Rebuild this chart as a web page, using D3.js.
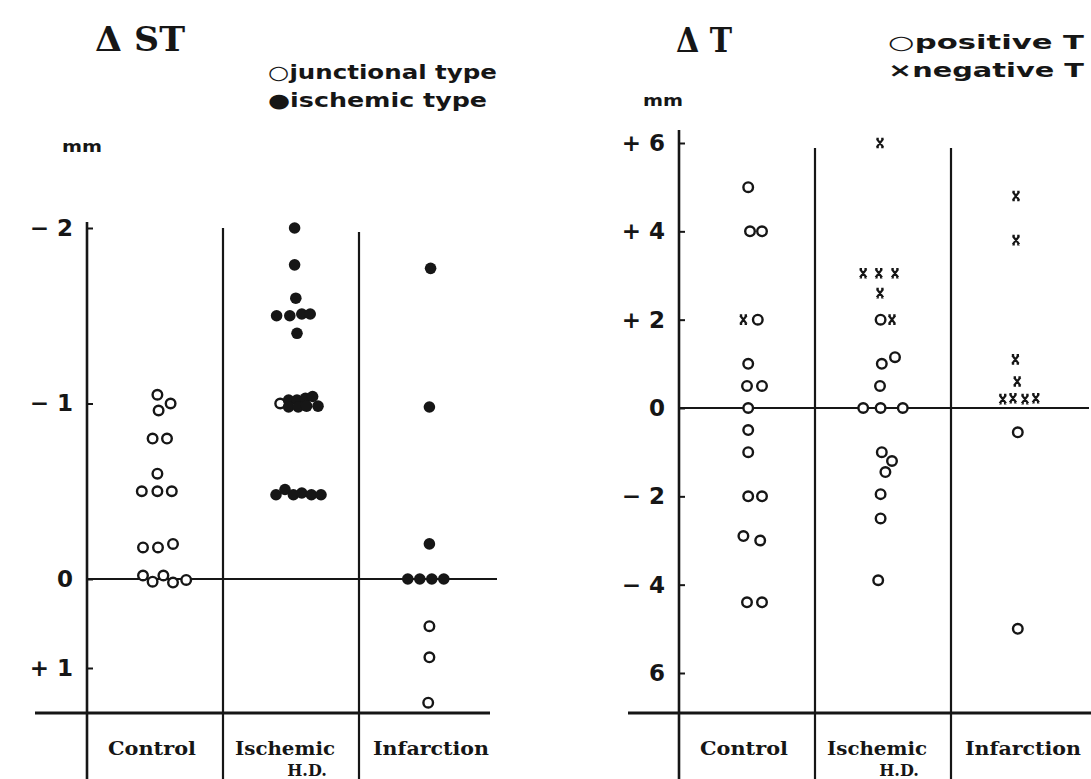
<!DOCTYPE html>
<html><head><meta charset="utf-8">
<script src="https://cdn.jsdelivr.net/npm/d3@7"></script>
<style>body{margin:0;background:#fff}svg{display:block}</style>
</head><body><svg id="c" width="1091" height="779"></svg>
<script>
// ---------- data ----------
const categories = ["Control", "Ischemic", "Infarction"];
const categoryLabels = [["Control"], ["Ischemic", "H.D."], ["Infarction"]];

const stTicks = [-2, -1, 0, 1];
const stTickLabels = ["− 2", "− 1", "0", "+ 1"];
const tTicks = [6, 4, 2, 0, -2, -4, -6];
const tTickLabels = ["+ 6", "+ 4", "+ 2", "0", "− 2", "− 4", "6"];

// [category, horizontal slot (marker widths from column centre), value in mm]
const stJunctional = [
  ["Control", 0.2, -1.05], ["Control", 1.3, -1.0], ["Control", 0.3, -0.96],
  ["Control", -0.2, -0.8], ["Control", 1.0, -0.8],
  ["Control", 0.2, -0.6],
  ["Control", -1.1, -0.5], ["Control", 0.2, -0.5], ["Control", 1.4, -0.5],
  ["Control", -1.0, -0.18], ["Control", 0.25, -0.18], ["Control", 1.5, -0.2],
  ["Control", -1.0, -0.02], ["Control", -0.2, 0.03], ["Control", 0.7, -0.02], ["Control", 1.5, 0.04], ["Control", 2.6, 0.01],
  ["Ischemic", -0.9, -1.0],
  ["Infarction", 0.2, 0.53], ["Infarction", 0.2, 0.88], ["Infarction", 0.1, 1.39]
];
const stIschemic = [
  ["Ischemic", 0.3, -2.0], ["Ischemic", 0.3, -1.79], ["Ischemic", 0.4, -1.6],
  ["Ischemic", -1.2, -1.5], ["Ischemic", -0.1, -1.5], ["Ischemic", 0.9, -1.51], ["Ischemic", 1.6, -1.51],
  ["Ischemic", 0.5, -1.4],
  ["Ischemic", -0.2, -1.02], ["Ischemic", 0.5, -1.02], ["Ischemic", 1.2, -1.03], ["Ischemic", 1.8, -1.04],
  ["Ischemic", -0.2, -0.98], ["Ischemic", 0.6, -0.98], ["Ischemic", 1.3, -0.985], ["Ischemic", 2.25, -0.985],
  ["Ischemic", -1.25, -0.48], ["Ischemic", -0.5, -0.51], ["Ischemic", 0.2, -0.48], ["Ischemic", 0.9, -0.49], ["Ischemic", 1.7, -0.48], ["Ischemic", 2.5, -0.48],
  ["Infarction", 0.3, -1.77], ["Infarction", 0.2, -0.98], ["Infarction", 0.2, -0.2],
  ["Infarction", -1.6, 0], ["Infarction", -0.6, 0], ["Infarction", 0.4, 0], ["Infarction", 1.4, 0]
];
const tPositive = [
  ["Control", 0.1, 5.0], ["Control", 0.25, 4.0], ["Control", 1.25, 4.0], ["Control", 0.9, 2.0],
  ["Control", 0.1, 1.0], ["Control", 0.0, 0.5], ["Control", 1.25, 0.5], ["Control", 0.1, 0.0],
  ["Control", 0.1, -0.5], ["Control", 0.1, -1.0], ["Control", 0.1, -2.0], ["Control", 1.25, -2.0],
  ["Control", -0.3, -2.9], ["Control", 1.1, -3.0], ["Control", 0.0, -4.4], ["Control", 1.25, -4.4],
  ["Ischemic", -0.2, 2.0], ["Ischemic", -0.1, 1.0], ["Ischemic", 1.0, 1.15], ["Ischemic", -0.25, 0.5],
  ["Ischemic", -1.65, 0.0], ["Ischemic", -0.2, 0.0], ["Ischemic", 1.65, 0.0],
  ["Ischemic", -0.1, -1.0], ["Ischemic", 0.75, -1.2], ["Ischemic", 0.2, -1.45], ["Ischemic", -0.2, -1.95],
  ["Ischemic", -0.2, -2.5], ["Ischemic", -0.4, -3.9],
  ["Infarction", -0.1, -0.55], ["Infarction", -0.1, -5.0]
];
const tNegative = [
  ["Control", -0.3, 2.0],
  ["Ischemic", -0.25, 6.0], ["Ischemic", -1.65, 3.05], ["Ischemic", -0.35, 3.05], ["Ischemic", 1.0, 3.05],
  ["Ischemic", -0.25, 2.6], ["Ischemic", 0.75, 2.0],
  ["Infarction", -0.25, 4.8], ["Infarction", -0.25, 3.8], ["Infarction", -0.3, 1.1], ["Infarction", -0.15, 0.6],
  ["Infarction", -1.35, 0.2], ["Infarction", -0.5, 0.22], ["Infarction", 0.5, 0.2], ["Infarction", 1.4, 0.22]
];

// ---------- drawing ----------
const ink = "#161616";
const svg = d3.select("#c");
svg.append("rect").attr("width", 1091).attr("height", 779).attr("fill", "#fff");

const slot = d3.scaleLinear().domain([0, 1]).range([0, 12]);

function drawPanel(o) {
  const g = svg.append("g");
  const x = d3.scaleBand().domain(categories).range([o.x0, o.x0 + 408]);
  const cx = d => x(d[0]) + x.bandwidth() / 2 + slot(d[1]);
  const y = o.y;

  // axis with inward ticks
  const ax = g.append("g").attr("transform", `translate(${o.x0},0)`)
    .call(d3.axisLeft(y).tickValues(o.ticks).tickFormat((d, i) => o.tickLabels[i])
      .tickSize(-6).tickPadding(14));
  ax.select(".domain").remove();
  ax.attr("font-size", null).attr("font-family", null);
  ax.selectAll(".tick line").attr("stroke", ink).attr("stroke-width", 2);
  ax.selectAll(".tick text").attr("fill", ink)
    .style("font-family", "'DejaVu Sans', sans-serif")
    .style("font-weight", "bold").style("font-size", "23px");

  const line = (x1, y1, x2, y2, w) => g.append("line")
    .attr("x1", x1).attr("y1", y1).attr("x2", x2).attr("y2", y2)
    .attr("stroke", ink).attr("stroke-width", w);

  line(o.x0, o.axisTop, o.x0, 779, 2.6);
  line(o.x0 + 136, o.divTop[0], o.x0 + 136, 779, 2.2);
  line(o.x0 + 272, o.divTop[1], o.x0 + 272, 779, 2.2);
  line(o.x0, y(0), o.x0 + 410, y(0), 2.2);
  line(o.bottom[0], o.bottomY, o.bottom[1], o.bottomY, 3.2);

  // category labels
  categories.forEach((c, i) => {
    const lab = categoryLabels[i];
    g.append("text").attr("x", x(c) + x.bandwidth() / 2 + o.labShift[i]).attr("y", 755)
      .attr("text-anchor", "middle").attr("fill", ink)
      .style("font-family", "'DejaVu Serif', serif").style("font-weight", "bold")
      .style("font-size", "18px").attr("textLength", o.labLen[i]).attr("lengthAdjust", "spacingAndGlyphs")
      .text(lab[0]);
    if (lab[1]) {
      g.append("text").attr("x", x(c) + x.bandwidth() / 2 + o.labShift[i] + 22).attr("y", 776)
        .attr("text-anchor", "middle").attr("fill", ink)
        .style("font-family", "'DejaVu Serif', serif").style("font-weight", "bold")
        .style("font-size", "16px").text(lab[1]);
    }
  });

  // points
  if (o.open) g.selectAll(null).data(o.open).join("circle")
    .attr("cx", cx).attr("cy", d => y(d[2])).attr("r", 4.8)
    .attr("fill", "#fff").attr("stroke", ink).attr("stroke-width", 2.4);
  if (o.filled) g.selectAll(null).data(o.filled).join("circle")
    .attr("cx", cx).attr("cy", d => y(d[2])).attr("r", 5.8).attr("fill", ink);
  if (o.cross) g.selectAll(null).data(o.cross).join("path")
    .attr("transform", d => `translate(${cx(d)},${y(d[2])})`)
    .attr("d", "M-3.2,-4.2L3.2,4.2M3.2,-4.2L-3.2,4.2M-3.6,-4.2H-1.2M1.2,-4.2H3.6M-3.6,4.2H-1.2M1.2,4.2H3.6")
    .attr("fill", "none").attr("stroke", ink).attr("stroke-width", 2.2);

  // title, unit, legend
  g.append("text").attr("x", o.titleX).attr("y", o.titleY).attr("fill", ink)
    .style("font-family", "'DejaVu Serif', serif").style("font-size", "34px").style("font-weight", "bold")
    .attr("textLength", o.titleLen).attr("lengthAdjust", "spacingAndGlyphs").text(o.title);
  g.append("text").attr("x", o.mmX).attr("y", o.mmY).attr("fill", ink)
    .style("font-family", "'DejaVu Sans', sans-serif").style("font-weight", "bold")
    .style("font-size", "15px").attr("textLength", 40).attr("lengthAdjust", "spacingAndGlyphs").text("mm");
  o.legend.forEach((L, i) => {
    g.append("text").attr("x", o.legX).attr("y", o.legY + i * 28).attr("fill", ink)
      .style("font-family", "'DejaVu Sans', sans-serif").style("font-weight", "bold")
      .style("font-size", "19px").attr("textLength", L[1]).attr("lengthAdjust", "spacingAndGlyphs").text(L[0]);
  });
}

drawPanel({
  x0: 87,
  y: d3.scaleLinear().domain([-2, 0, 1]).range([228, 579, 668]),
  ticks: stTicks, tickLabels: stTickLabels,
  axisTop: 222, divTop: [228, 232], bottom: [35, 490], bottomY: 713,
  labShift: [-3, -6, 4], labLen: [88, 100, 116],
  open: stJunctional, filled: stIschemic,
  title: "Δ ST", titleX: 95, titleY: 51, titleLen: 90,
  mmX: 62, mmY: 152,
  legend: [["○junctional type", 229], ["●ischemic type", 219]], legX: 268, legY: 79
});

drawPanel({
  x0: 679,
  y: d3.scaleLinear().domain([6, -6]).range([143, 673]),
  ticks: tTicks, tickLabels: tTickLabels,
  axisTop: 130, divTop: [148, 148], bottom: [628, 1091], bottomY: 713,
  labShift: [-3, -6, 4], labLen: [88, 100, 116],
  open: tPositive, cross: tNegative,
  title: "Δ T", titleX: 676, titleY: 52, titleLen: 56,
  mmX: 643, mmY: 106,
  legend: [["○positive T", 196], ["×negative T", 196]], legX: 888, legY: 49
});
</script></body></html>
